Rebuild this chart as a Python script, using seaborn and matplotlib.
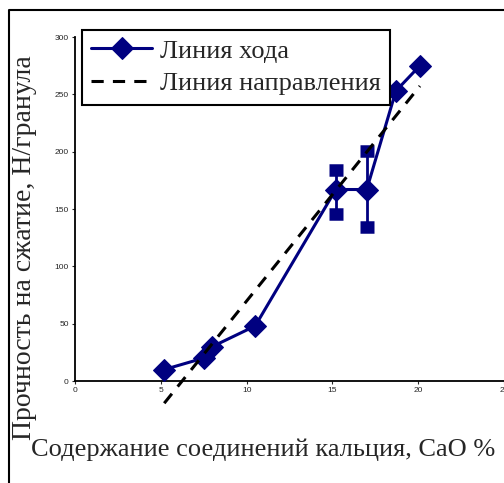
import numpy as np
import pandas as pd
import matplotlib
matplotlib.use("Agg")
import matplotlib.pyplot as plt
import seaborn as sns

# данные
cao = [5.2, 7.5, 8.0, 10.5, 15.2, 17.0, 18.7, 20.1]
strength = [10, 20, 30, 48, 167, 167, 253, 275]
err_x = [15.2, 17.0]
err_y = [167, 167]
err_low = [21, 33]
err_high = [17, 34]

df = pd.DataFrame({"cao": cao, "strength": strength})

sns.set_style("ticks")
plt.rcParams["font.family"] = ["Liberation Serif", "DejaVu Serif"]

fig = plt.figure(figsize=(5.04, 4.83), dpi=100)
ax = fig.add_axes([75 / 504, 1 - 381 / 483, 429 / 504, 344 / 483])

navy = "#000080"

# линия хода
sns.lineplot(data=df, x="cao", y="strength", ax=ax, color=navy, lw=2.2,
             marker="D", markersize=11, markeredgecolor=navy,
             label="Линия хода", zorder=3)
ax.errorbar(err_x, err_y, yerr=[err_low, err_high], fmt="none", ecolor=navy,
            elinewidth=2, capsize=5, capthick=9, zorder=3)

# линия направления (линейный тренд)
sns.regplot(data=df, x="cao", y="strength", ax=ax, scatter=False, ci=None,
            truncate=True, color="black", label="Линия направления",
            line_kws={"lw": 2.2, "dashes": (4, 3), "zorder": 4, "clip_on": False})

ax.set_xlim(0, 25)
ax.set_ylim(0, 300)
ax.set_xticks([0, 5, 10, 15, 20, 25])
ax.set_yticks([0, 50, 100, 150, 200, 250, 300])
ax.tick_params(labelsize=6, length=2.5, width=0.8, pad=2)
for lab in ax.get_xticklabels() + ax.get_yticklabels():
    lab.set_family(["Liberation Sans", "DejaVu Sans"])
sns.despine(ax=ax)
for s in ["left", "bottom"]:
    ax.spines[s].set_linewidth(1.3)
    ax.spines[s].set_color("black")

ax.set_xlabel("Содержание соединений кальция, СаО %", fontsize=19, va="center")
ax.set_ylabel("Прочность на сжатие, Н/гранула", fontsize=20, va="center")
ax.xaxis.set_label_coords((263.5 - 75) / 429, (381 - 450) / 344)
ax.yaxis.set_label_coords((25 - 75) / 429, (381 - 247.5) / 344)

handles, labels = ax.get_legend_handles_labels()
leg = ax.legend(handles, labels, loc="upper left",
                bbox_to_anchor=(82 / 504, 1 - 30 / 483),
                bbox_transform=fig.transFigure, borderaxespad=0,
                fontsize=19, frameon=True, fancybox=False, handlelength=2.3,
                borderpad=0.35, labelspacing=0.35, handletextpad=0.3)
leg.get_frame().set_edgecolor("black")
leg.get_frame().set_linewidth(1.5)
leg.get_frame().set_alpha(1)

# рамка рисунка
fig.add_artist(plt.Line2D([9 / 504, 9 / 504, 1], [0, 1 - 10 / 483, 1 - 10 / 483],
                          transform=fig.transFigure, color="black", lw=1.5))

fig.savefig("out.png", dpi=100)
